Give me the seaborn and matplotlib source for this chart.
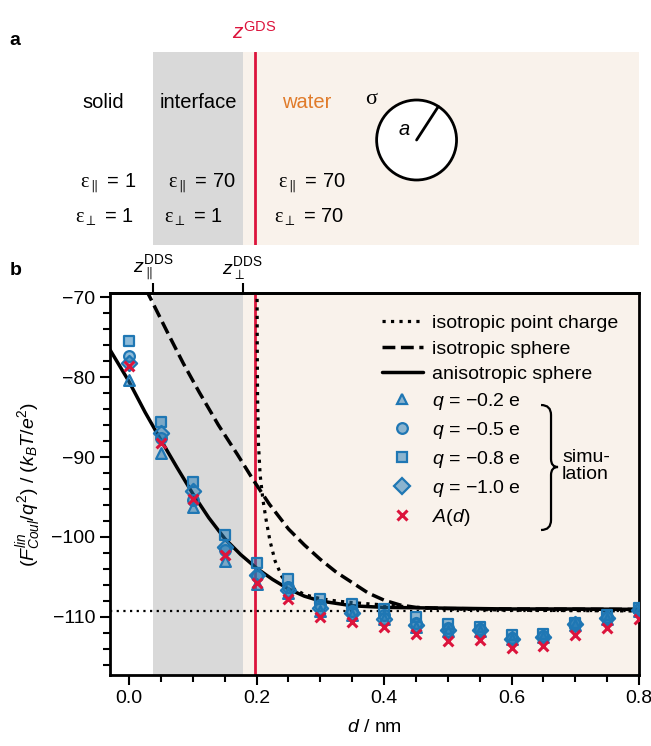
import numpy as np
import matplotlib
matplotlib.use('Agg')
import matplotlib.pyplot as plt
import seaborn as sns
from matplotlib.lines import Line2D
from matplotlib.patches import Ellipse, PathPatch
from matplotlib.path import Path
from matplotlib.ticker import MultipleLocator

# ---- data ----
d_sim = [0.0, 0.05, 0.1, 0.15, 0.2, 0.25, 0.3, 0.35, 0.4, 0.45, 0.5, 0.55, 0.6, 0.65, 0.7, 0.75, 0.8]
q02 = [-80.4, -89.5, -96.3, -103.0, -105.9, -107.0, -109.2, -109.7, -110.3, -111.2, -111.8, -111.7, -112.8, -112.5, -111.0, -110.2, -109.2]
q05 = [-77.4, -87.6, -95.4, -101.6, -104.9, -106.3, -108.5, -109.2, -109.8, -110.7, -111.4, -111.5, -112.6, -112.4, -110.8, -110.0, -109.0]
q08 = [-75.5, -85.6, -93.1, -99.8, -103.2, -105.2, -107.7, -108.4, -109.0, -110.0, -110.9, -111.3, -112.3, -112.1, -110.7, -109.8, -108.9]
q10 = [-78.3, -87.0, -94.2, -101.2, -104.7, -106.6, -108.9, -109.5, -110.2, -111.0, -111.6, -111.6, -112.7, -112.5, -110.9, -110.1, -109.1]
A_d = [-78.6, -88.3, -95.2, -102.3, -105.7, -107.8, -110.0, -110.6, -111.2, -112.1, -113.0, -112.9, -113.9, -113.6, -112.2, -111.4, -110.3]

aniso_d = [-0.03, 0.0, 0.025, 0.05, 0.075, 0.1, 0.125, 0.15, 0.175, 0.2, 0.225, 0.25, 0.275, 0.3, 0.35, 0.4, 0.5, 0.6, 0.7, 0.8]
aniso_v = [-76.6, -80.6, -84.4, -87.9, -91.3, -94.6, -97.6, -100.2, -102.2, -103.9, -105.3, -106.5, -107.4, -108.0, -108.6, -108.8, -108.9, -109.0, -109.0, -109.05]

iso_d = [0.0, 0.035, 0.06, 0.085, 0.11, 0.14, 0.17, 0.195, 0.22, 0.25, 0.275, 0.3, 0.325, 0.35, 0.375, 0.4, 0.425, 0.45, 0.5, 0.6, 0.8]
iso_v = [-64.9, -70.4, -74.4, -78.3, -81.9, -86.0, -89.7, -92.9, -95.9, -99.0, -101.0, -102.8, -104.4, -105.7, -107.0, -107.9, -108.5, -108.8, -108.95, -109.0, -109.05]

pc_d = [0.2006, 0.201, 0.2015, 0.203, 0.2055, 0.21, 0.215, 0.221, 0.229, 0.24, 0.255, 0.275, 0.3, 0.325, 0.35, 0.375, 0.4, 0.45, 0.5, 0.6, 0.7, 0.8]
pc_v = [-66.0, -76.0, -82.5, -88.5, -92.2, -95.4, -97.9, -100.5, -103.0, -105.0, -106.3, -107.2, -107.7, -108.0, -108.2, -108.35, -108.5, -108.8, -109.0, -109.15, -109.2, -109.25]

bulk_limit = -109.3
z_par, z_perp, z_gds = 0.038, 0.178, 0.197

# ---- style ----
sns.set_style('ticks', {'axes.edgecolor': 'black', 'xtick.color': 'black', 'ytick.color': 'black',
                        'text.color': 'black', 'axes.labelcolor': 'black'})
plt.rcParams['font.family'] = ['Liberation Sans', 'DejaVu Sans']
plt.rcParams['mathtext.fontset'] = 'custom'
plt.rcParams['mathtext.rm'] = 'Liberation Sans'
plt.rcParams['mathtext.it'] = 'Liberation Sans:italic'
plt.rcParams['mathtext.bf'] = 'Liberation Sans:bold'
plt.rcParams['mathtext.sf'] = 'Liberation Serif'

GRAY = '#d9d9d9'
BEIGE = '#f9f2eb'
CRIMSON = '#dc143c'
BLUE = '#1f77b4'
FACE = (0.12, 0.47, 0.71, 0.5)
ORANGE = '#e07b2a'

fig = plt.figure(figsize=(6.51, 7.46), dpi=100)
ax = fig.add_axes([0.169, 0.0952, 0.8126, 0.512])
ax_top = fig.add_axes([0.169, 0.6716, 0.8126, 0.2587])

# ---- panel b ----
ax.axvspan(z_par, z_perp, color=GRAY, lw=0, zorder=0)
ax.axvspan(z_perp, 0.8, color=BEIGE, lw=0, zorder=0)
ax.axvline(z_gds, color=CRIMSON, lw=2, zorder=1)
ax.axhline(bulk_limit, color='k', lw=1.6, ls=(0, (1, 2.0)), zorder=2)

sns.lineplot(x=pc_d, y=pc_v, ax=ax, color='k', lw=2.3, linestyle=':', zorder=2.5)
sns.lineplot(x=iso_d, y=iso_v, ax=ax, color='k', lw=2.5, linestyle='--', zorder=2.5)
sns.lineplot(x=aniso_d, y=aniso_v, ax=ax, color='k', lw=2.5, zorder=2.5)

for vals, mk in [(q02, '^'), (q05, 'o'), (q08, 's'), (q10, 'D')]:
    sns.scatterplot(x=d_sim, y=vals, ax=ax, marker=mk, s=60, color=FACE,
                    edgecolor=BLUE, linewidth=1.6, zorder=3)
sns.scatterplot(x=d_sim, y=A_d, ax=ax, marker='x', s=50, color=CRIMSON, linewidth=2.2, zorder=4)

ax.set_xlim(-0.03, 0.8)
ax.set_ylim(-117.25, -69.5)
ax.xaxis.set_major_locator(MultipleLocator(0.2))
ax.xaxis.set_minor_locator(MultipleLocator(0.05))
ax.yaxis.set_major_locator(MultipleLocator(10))
ax.yaxis.set_minor_locator(MultipleLocator(2))
ax.xaxis.set_major_formatter(matplotlib.ticker.FormatStrFormatter('%.1f'))
ax.tick_params(which='major', length=7, width=1.5, labelsize=14, direction='out')
ax.tick_params(which='minor', length=5, width=1.5, direction='out')
ax.tick_params(axis='x', which='both', top=False)
for sp in ax.spines.values():
    sp.set_linewidth(2)
ax.set_xlabel(r'$d$ / nm', fontsize=14, labelpad=9)
ax.set_ylabel(r'$(F^{lin}_{Coul}/q^2)$ / $(k_BT/e^2)$', fontsize=14, labelpad=6)

top = ax.secondary_xaxis('top')
top.set_xticks([z_par, z_perp], labels=[r'$z_{\parallel}^{\mathrm{DDS}}$', r'$z_{\perp}^{\mathrm{DDS}}$'])
top.tick_params(direction='out', length=7, width=1.5, labelsize=14, pad=1)
top.spines['top'].set_linewidth(2)

handles = [
    Line2D([], [], color='k', lw=2.3, ls=':'),
    Line2D([], [], color='k', lw=2.5, ls='--'),
    Line2D([], [], color='k', lw=2.5),
    Line2D([], [], ls='none', marker='^', ms=7.7, mfc=FACE, mec=BLUE, mew=1.6),
    Line2D([], [], ls='none', marker='o', ms=7.7, mfc=FACE, mec=BLUE, mew=1.6),
    Line2D([], [], ls='none', marker='s', ms=7.7, mfc=FACE, mec=BLUE, mew=1.6),
    Line2D([], [], ls='none', marker='D', ms=7.7, mfc=FACE, mec=BLUE, mew=1.6),
    Line2D([], [], ls='none', marker='x', ms=7, color=CRIMSON, mew=2.2),
]
labels = ['isotropic point charge', 'isotropic sphere', 'anisotropic sphere',
          r'$q$ = $-$0.2 e', r'$q$ = $-$0.5 e', r'$q$ = $-$0.8 e', r'$q$ = $-$1.0 e', r'$A(d)$']
ax.legend(handles, labels, loc='upper left', bbox_to_anchor=(0.514, 0.944), frameon=False,
          fontsize=14, handlelength=2.1, handletextpad=0.5, labelspacing=0.41,
          borderpad=0, borderaxespad=0)


def px(xp, yp):
    # pixel position in the figure -> axes fraction of panel b
    return ((xp - 110) / 529, (675 - yp) / 382)


brace = Path([px(541, 405), px(551, 405), px(551, 415), px(551, 459), px(551, 467), px(558, 467),
              px(551, 467), px(551, 475), px(551, 520), px(551, 530), px(541, 530)],
             [Path.MOVETO, Path.CURVE3, Path.CURVE3, Path.LINETO, Path.CURVE3, Path.CURVE3,
              Path.CURVE3, Path.CURVE3, Path.LINETO, Path.CURVE3, Path.CURVE3])
ax.add_patch(PathPatch(brace, transform=ax.transAxes, fc='none', ec='k', lw=1.6, zorder=5))
ax.text(*px(562, 466), 'simu-\nlation', transform=ax.transAxes, fontsize=14,
        ha='left', va='center', linespacing=1.05)

# ---- panel a (schematic) ----
ax_top.set_xlim(-0.03, 0.8)
ax_top.set_ylim(0, 1)
ax_top.axis('off')
ax_top.axvspan(z_par, z_perp, color=GRAY, lw=0, zorder=0)
ax_top.axvspan(z_perp, 0.8, color=BEIGE, lw=0, zorder=0)
ax_top.axvline(z_gds, color=CRIMSON, lw=2, zorder=1)
ax_top.text(z_gds, 1.05, r'$z^{\mathrm{GDS}}$', color=CRIMSON, fontsize=15, ha='center', va='bottom')

ax_top.text(-0.040, 0.736, 'solid', fontsize=14.5, ha='center', va='center')
ax_top.text(0.108, 0.736, 'interface', fontsize=14.5, ha='center', va='center')
ax_top.text(0.279, 0.736, 'water', fontsize=14.5, ha='center', va='center', color=ORANGE)

eps_rows = [
    (-0.0773, 0.321, r'$\mathsf{\varepsilon}_{\parallel}$ = 1'),
    (0.0607, 0.321, r'$\mathsf{\varepsilon}_{\parallel}$ = 70'),
    (0.233, 0.321, r'$\mathsf{\varepsilon}_{\parallel}$ = 70'),
    (-0.085, 0.145, r'$\mathsf{\varepsilon}_{\perp}$ = 1'),
    (0.0544, 0.145, r'$\mathsf{\varepsilon}_{\perp}$ = 1'),
    (0.227, 0.145, r'$\mathsf{\varepsilon}_{\perp}$ = 70'),
]
for x0, y0, s in eps_rows:
    ax_top.text(x0, y0, s, fontsize=14.5, ha='left', va='center')

cx, cy, rx, ry = 0.451, 0.544, 40 / 638, 40 / 193
ax_top.add_patch(Ellipse((cx, cy), 2 * rx, 2 * ry, fc='white', ec='k', lw=2, zorder=2))
ang = np.deg2rad(57)
ax_top.plot([cx, cx + rx * np.cos(ang)], [cy, cy + ry * np.sin(ang)], color='k', lw=2, zorder=3)
ax_top.text(0.432, 0.596, r'$a$', fontsize=14.5, ha='center', va='center', zorder=3)
ax_top.text(0.380, 0.755, 'σ', fontsize=16, family='Liberation Serif', ha='center', va='center')

fig.text(0.015, 0.946, 'a', fontsize=14, fontweight='bold', va='center')
fig.text(0.015, 0.638, 'b', fontsize=14, fontweight='bold', va='center')

fig.savefig('out.png', dpi=100)
